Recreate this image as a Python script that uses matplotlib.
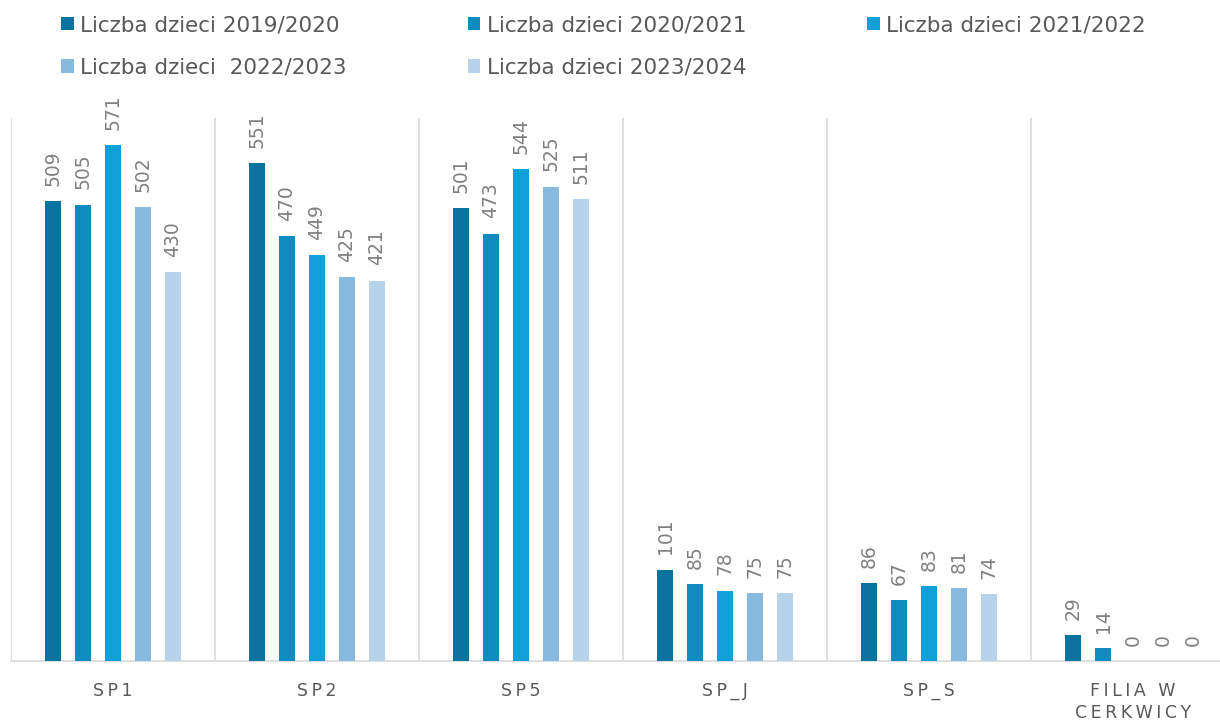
import matplotlib
matplotlib.use("Agg")
import matplotlib.pyplot as plt
import numpy as np
from matplotlib.patches import Patch

categories = ["SP1", "SP2", "SP5", "SP_J", "SP_S", "FILIA W\nCERKWICY"]
series_names = ["Liczba dzieci 2019/2020", "Liczba dzieci 2020/2021", "Liczba dzieci 2021/2022",
                "Liczba dzieci  2022/2023", "Liczba dzieci 2023/2024"]
v2019 = [509, 551, 501, 101, 86, 29]
v2020 = [505, 470, 473, 85, 67, 14]
v2021 = [571, 449, 544, 78, 83, 0]
v2022 = [502, 425, 525, 75, 81, 0]
v2023 = [430, 421, 511, 75, 74, 0]
series = [v2019, v2020, v2021, v2022, v2023]
colors = ["#0b73a0", "#0e8bbf", "#11a0d7", "#88bae0", "#b7d3ea"]

plt.rcParams['font.family'] = ['DejaVu Sans']
fig = plt.figure(figsize=(12.2, 7.2), dpi=100)
ax = fig.add_axes([11/1220, 59/720, 1224/1220, 543/720])

n = len(categories)
x = np.arange(n)
step = 0.147
width = 0.078
for i, (vals, c) in enumerate(zip(series, colors)):
    pos = x + (i - 2) * step
    ax.bar(pos, vals, width=width, color=c, zorder=3)
    for p, v in zip(pos, vals):
        ax.annotate(str(v), (p, v), xytext=(0, 11), textcoords="offset points",
                    rotation=90, ha="center", va="bottom", fontsize=13.5, color="#808080")

ax.set_xlim(-0.5, n - 0.5)
ax.set_ylim(0, 601)
ax.set_yticks([])
for b in np.arange(-0.5, n + 0.5, 1.0):
    ax.axvline(b, color="#d9d9d9", lw=1.2, zorder=1)
for s in ["top", "right", "left"]:
    ax.spines[s].set_visible(False)
ax.spines["bottom"].set_color("#d9d9d9")
ax.spines["bottom"].set_linewidth(1.2)

def spaced(t):
    return "\n".join("\u2009".join(list(line)) for line in t.split("\n"))

ax.set_xticks(x)
ax.set_xticklabels([spaced(c) for c in categories], fontsize=12.5, color="#595959", linespacing=1.3)
ax.tick_params(axis="x", length=0, pad=15)

handles = [Patch(facecolor=c, edgecolor="none") for c in colors]
order = [0, 3, 1, 4, 2]
fig.legend([handles[k] for k in order], [series_names[k] for k in order], ncol=3,
           loc="upper left", bbox_to_anchor=(46/1220, 1.0),
           frameon=False, fontsize=15.5, handlelength=0.6, handleheight=0.6, handletextpad=0.3,
           columnspacing=5.6, labelcolor="#595959", borderaxespad=0.3, labelspacing=1.05)

fig.savefig("out.png", dpi=100)
